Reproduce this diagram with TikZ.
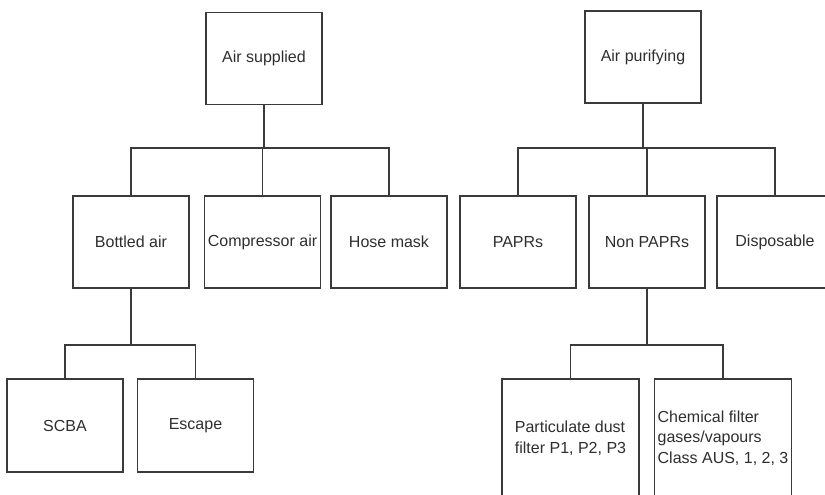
\documentclass[tikz,border=0pt]{standalone}
\usepackage{fontspec}
\setmainfont{Liberation Sans}
\usepackage{xcolor}
\usetikzlibrary{positioning}

\definecolor{linegray}{HTML}{3A3A3A}
\definecolor{textgray}{HTML}{2E2E2E}

\begin{document}
\begin{tikzpicture}[
    x=1pt, y=-1pt,
    box/.style={rectangle, draw=linegray, line width=1.1pt, minimum width=116pt, minimum height=92pt,
        inner sep=2pt, text=textgray, font=\fontsize{16}{20.7}\selectfont, align=center},
    tallbox/.style={box, minimum width=137pt, minimum height=118pt, align=left},
    link/.style={draw=linegray, line width=1.1pt}
]
    \useasboundingbox (0,0) rectangle (825,495);

    % Top level
    \node[box] (supplied) at (264,58.5) {Air supplied};
    \node[box] (purifying) at (643,57) {Air purifying};

    % Second level
    \node[box] (bottled) at (131,242) {Bottled air};
    \node[box] (compressor) at (262.5,242) {Compressor air};
    \node[box] (hose) at (389,242) {Hose mask};
    \node[box] (paprs) at (518,242) {PAPRs};
    \node[box] (nonpaprs) at (647,242) {Non PAPRs};
    \node[box] (disposable) at (775,242) {Disposable};

    % Third level
    \node[box, minimum height=93pt] (scba) at (65,425.5) {SCBA};
    \node[box, minimum height=93pt] (escape) at (195.5,425.5) {Escape};
    \node[tallbox] (particulate) at (570.5,438) {Particulate dust\\filter P1, P2, P3};
    \node[tallbox] (chemical) at (723,438) {Chemical filter\\gases/vapours\\Class AUS, 1, 2, 3};

    % Branch points
    \coordinate (splitA) at (supplied.south |- 0,148);
    \coordinate (splitB) at (purifying.south |- 0,148);
    \coordinate (splitC) at (bottled.south |- 0,345);
    \coordinate (splitD) at (nonpaprs.south |- 0,345);

    % Connectors
    \draw[link] (supplied.south) -- (splitA);
    \foreach \n in {bottled,compressor,hose}
        \draw[link] (splitA) -| (\n.north);

    \draw[link] (purifying.south) -- (splitB);
    \foreach \n in {paprs,nonpaprs,disposable}
        \draw[link] (splitB) -| (\n.north);

    \draw[link] (bottled.south) -- (splitC);
    \foreach \n in {scba,escape}
        \draw[link] (splitC) -| (\n.north);

    \draw[link] (nonpaprs.south) -- (splitD);
    \foreach \n in {particulate,chemical}
        \draw[link] (splitD) -| (\n.north);

\end{tikzpicture}
\end{document}
